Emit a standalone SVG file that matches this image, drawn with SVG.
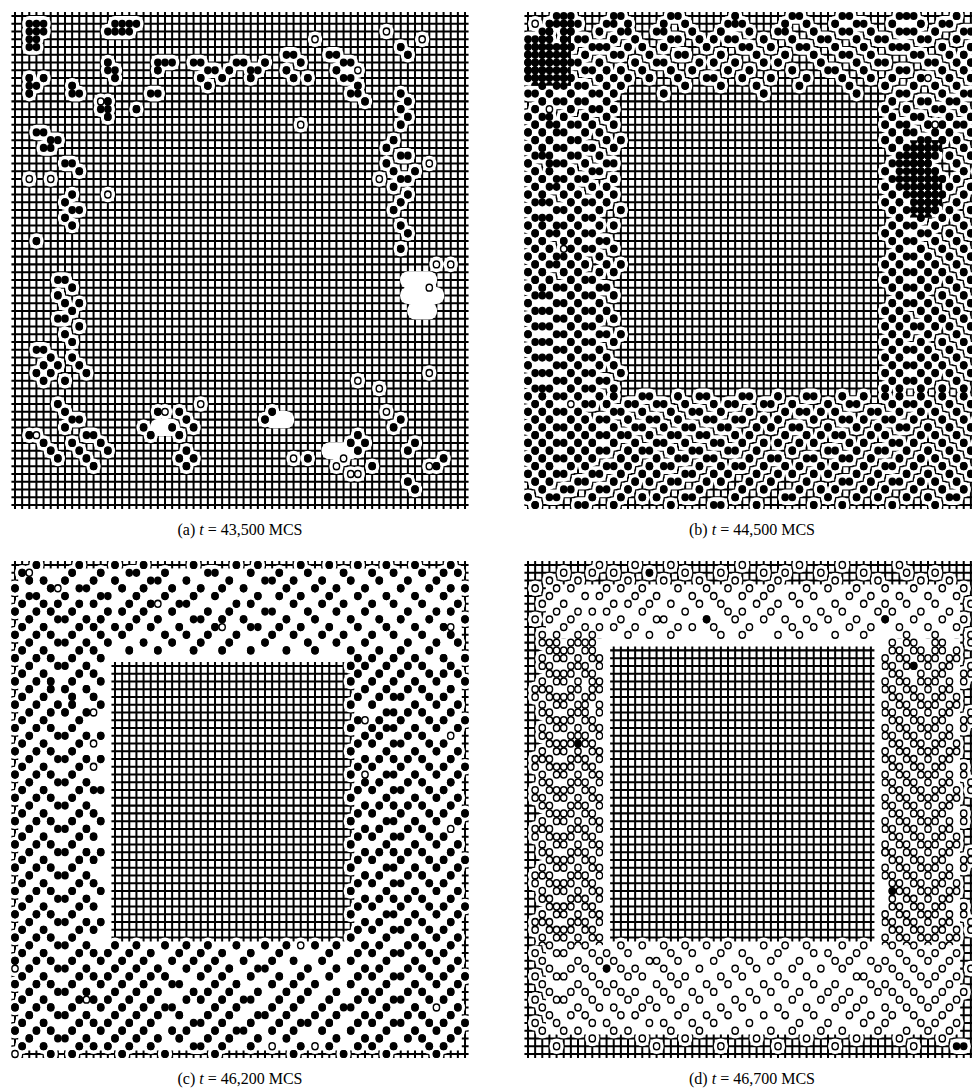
<svg xmlns="http://www.w3.org/2000/svg" width="972" height="1091" viewBox="0 0 972 1091">
<style>
.gh{fill:none;stroke:#000;stroke-width:64;stroke-dasharray:0.26 0.74}
.gv{fill:none;stroke:#000;stroke-width:64;stroke-dasharray:0.28 0.72}
.halo{fill:none;stroke:#fff;stroke-width:2;stroke-linecap:round}
.mk{fill:none;stroke:none;marker-start:url(#dot);marker-mid:url(#dot);marker-end:url(#dot)}
.ring{fill:none;stroke:#000;stroke-width:1.08;stroke-linecap:round}
.hole{fill:none;stroke:#fff;stroke-width:0.68;stroke-linecap:round}
.wb{fill:#fff;fill-rule:evenodd}
text{font-family:"Liberation Serif","Times New Roman",serif;font-size:16px;fill:#000}
</style>
<defs>
<marker id="dot" markerUnits="userSpaceOnUse" viewBox="-1 -1 2 2" markerWidth="2" markerHeight="2" refX="0" refY="0" overflow="visible"><circle r="0.53" fill="#000"/></marker>
<clipPath id="clipB"><path d="M-0.6 -0.6H6V9H-0.6ZM53.5 16H58V26H53.5Z"/></clipPath>
<clipPath id="clipD"><path d="M-0.6 9.5H10.5V49H-0.6ZM49.5 9.5H63.6V49H49.5Z"/></clipPath>
<path id="ab" d="M2 1h1 1M2 2h1 1M2 3h1M2 4h1M14 1h1 1 1M13 2h1 1 1M2 8h0M4 8h0M2 9h1M2 10h0M8 9h0M8 10h1M13 11h0M12 12h1M13 13h0M13 6h0M13 7h1M14 8h0M17 12h0M20 6h1 1M20 7h0M19 10h1M25 6h1M27 7h1M26 8h0M29 8h0M30 7h0M27 9h0M31 6h1M33 7h1M35 6h0M33 8h0M38 5h1M40 6h0M38 7h0M39 8h0M41 8h0M44 5h1M46 6h1M45 7h0M46 8h1M48 9h0M47 10h1M49 11h0M54 4h0M55 5h0M54 10h0M55 11h0M54 12h0M55 13h0M54 14h0M53 16h0M52 17h0M54 18h1M52 19h0M53 20h0M56 20h0M54 21h1M53 22h0M55 23h0M54 24h0M53 25h0M54 27h0M55 28h0M54 30h0M3 15h1M5 16h1M4 17h1M7 19h1M9 20h0M8 23h0M7 24h0M8 25h1M7 26h0M8 27h0M3 29h0M6 34h1M8 35h0M6 36h0M7 37h0M9 37h0M8 38h0M6 39h1M9 40h0M7 41h0M8 42h0M3 43h1M5 44h0M4 45h0M6 45h0M3 46h0M5 46h0M8 44h0M9 45h0M10 46h0M7 47h0M4 47h0M6 50h0M7 51h0M8 52h1M7 53h0M10 54h1M8 55h0M12 55h0M9 56h0M13 56h0M10 57h0M11 58h0M2 54h0M4 55h0M5 56h0M6 57h0M20 51h0M23 51h0M24 52h0M22 53h0M23 54h0M25 53h0M24 56h0M23 57h0M25 57h0M24 58h0M19 54h0M18 53h0M36 51h0M35 52h0M41 57h0M47 55h0M48 54h0M49 55h0M48 56h0M50 58h0M55 60h0M56 61h0M59 58h0M60 57h0M55 56h0M56 55h0M53 53h0M54 52h0"/>
<path id="ao" d="M12 11h0M40 14h0M42 3h0M48 7h0M52 2h0M57 3h0M51 21h0M58 19h0M59 32h0M61 32h0M58 35h0M2 21h0M5 21h0M13 23h0M3 54h0M21 51h0M26 50h0M39 57h0M46 57h0M48 47h0M51 48h0M58 46h0M52 51h0M45 58h0M47 59h0M48 59h0M58 58h0"/>
<path id="bb" d="M4 0h1 1M12 0h1M20 0h1M29 0h0M37 0h1M44 0h1M52 0h1 1M60 0h0M3 1h0M5 1h1 1M11 1h1M14 1h0M19 1h0M22 1h0M28 1h1 1M36 1h0M39 1h0M43 1h0M46 1h1M51 1h0M55 1h0M58 1h1M2 2h1M6 2h0M10 2h0M13 2h1M18 2h1M23 2h0M27 2h0M31 2h0M35 2h1M40 2h0M44 2h1M48 2h0M52 2h1 1M57 2h0M61 2h1M0 3h1 1M5 3h0M7 3h1M12 3h0M15 3h0M20 3h1M24 3h0M26 3h0M28 3h1M33 3h0M37 3h0M41 3h1M46 3h0M49 3h1M55 3h1M60 3h0M1 4h1 1 1M6 4h0M9 4h1 1M14 4h0M16 4h0M19 4h0M25 4h0M30 4h1M34 4h0M38 4h1M43 4h0M47 4h0M51 4h1 1M58 4h0M62 4h0M0 5h0M2 5h1M5 5h0M8 5h0M12 5h1M17 5h0M21 5h1M27 5h0M32 5h0M36 5h0M40 5h0M44 5h1M48 5h0M54 5h1M59 5h0M61 5h0M1 6h0M3 6h1M6 6h1M10 6h0M15 6h0M18 6h1M24 6h0M26 6h0M29 6h0M33 6h0M35 6h0M41 6h0M46 6h0M49 6h1M56 6h1M60 6h0M62 6h0M0 7h0M2 7h0M5 7h0M8 7h1M11 7h0M13 7h0M16 7h0M20 7h0M23 7h0M28 7h0M31 7h0M37 7h0M42 7h1M47 7h0M52 7h1M58 7h0M61 7h0M1 8h0M3 8h1M6 8h0M10 8h0M12 8h0M14 8h0M17 8h0M21 8h0M25 8h1M30 8h0M34 8h0M39 8h0M44 8h0M48 8h0M51 8h0M55 8h0M59 8h0M62 8h0M2 9h0M4 9h1M7 9h1M11 9h0M13 9h0M22 9h0M27 9h0M32 9h0M38 9h0M45 9h0M50 9h0M54 9h0M57 9h0M60 9h0M0 10h1M3 10h0M6 10h0M9 10h1M12 10h0M19 10h0M33 10h0M46 10h0M52 10h1M58 10h0M61 10h1M2 11h0M4 11h1M7 11h1M11 11h0M51 11h0M55 11h1M59 11h1M1 12h0M6 12h0M9 12h1M12 12h0M50 12h0M53 12h0M57 12h1M61 12h0M0 13h0M2 13h1M5 13h0M8 13h0M11 13h0M51 13h0M54 13h1M59 13h0M62 13h0M1 14h0M3 14h1M6 14h1M9 14h0M12 14h0M50 14h0M52 14h1M56 14h0M58 14h0M60 14h1M0 15h0M2 15h0M4 15h1M8 15h0M10 15h0M51 15h0M53 15h1M57 15h0M59 15h0M62 15h0M1 16h0M3 16h0M6 16h1M11 16h0M13 16h0M50 16h0M52 16h0M55 16h1M58 16h0M60 16h0M0 17h0M2 17h0M4 17h1M8 17h1M12 17h0M51 17h0M53 17h1 1 1 1M61 17h0M1 18h1 1M6 18h1M10 18h0M52 18h1 1 1 1M59 18h0M62 18h0M0 19h0M3 19h1 1M8 19h0M11 19h1M51 19h1 1 1 1 1M60 19h0M1 20h0M3 20h0M6 20h0M9 20h1M50 20h0M52 20h1 1 1M57 20h0M61 20h0M63 20h0M0 21h0M2 21h0M4 21h1M7 21h1M12 21h0M51 21h1 1 1M56 21h0M58 21h0M60 21h0M1 22h0M3 22h1M6 22h0M9 22h0M11 22h0M50 22h0M52 22h1M55 22h0M57 22h0M59 22h0M62 22h0M0 23h0M2 23h0M5 23h0M7 23h0M10 23h0M12 23h0M51 23h0M53 23h1M56 23h0M58 23h0M61 23h0M1 24h1 1M6 24h0M8 24h1M11 24h0M50 24h0M52 24h0M55 24h0M57 24h0M60 24h0M0 25h0M4 25h1M7 25h0M10 25h0M13 25h0M51 25h0M53 25h1M56 25h0M59 25h0M62 25h0M1 26h1 1M6 26h0M8 26h1M52 26h0M55 26h0M58 26h0M60 26h0M0 27h0M2 27h0M4 27h1M7 27h0M10 27h0M12 27h0M51 27h0M53 27h1M57 27h0M61 27h0M1 28h0M3 28h1M6 28h0M8 28h1M50 28h0M52 28h0M55 28h1M59 28h0M62 28h0M0 29h0M2 29h0M5 29h0M7 29h0M10 29h1M51 29h0M53 29h1M57 29h0M60 29h0M1 30h0M3 30h0M6 30h0M8 30h1M12 30h0M52 30h0M55 30h0M58 30h0M61 30h0M0 31h0M2 31h0M4 31h1M7 31h0M10 31h0M51 31h0M53 31h1M56 31h0M59 31h0M62 31h0M1 32h0M3 32h1M6 32h0M8 32h0M11 32h0M13 32h0M50 32h0M52 32h0M55 32h0M57 32h0M60 32h0M0 33h0M2 33h0M5 33h0M7 33h0M10 33h0M12 33h0M51 33h0M53 33h1M56 33h0M58 33h0M61 33h0M1 34h0M3 34h0M6 34h0M8 34h1M50 34h0M52 34h0M55 34h0M57 34h0M59 34h0M62 34h0M0 35h0M2 35h0M4 35h1M7 35h0M10 35h1M51 35h0M53 35h1M56 35h0M60 35h0M1 36h1 1M6 36h0M8 36h1M12 36h0M52 36h0M55 36h0M58 36h0M61 36h0M0 37h0M4 37h1M7 37h0M10 37h0M51 37h0M53 37h1M56 37h0M59 37h0M62 37h0M1 38h1 1M6 38h0M8 38h1M11 38h0M50 38h0M52 38h0M55 38h0M57 38h0M60 38h0M0 39h0M4 39h1M7 39h0M10 39h0M12 39h0M51 39h0M53 39h0M56 39h0M58 39h0M61 39h0M1 40h1 1M6 40h0M8 40h1M50 40h0M52 40h0M54 40h1M57 40h0M59 40h0M62 40h0M0 41h0M4 41h1M7 41h0M10 41h1M13 41h0M51 41h0M53 41h0M56 41h0M60 41h0M1 42h1 1M6 42h0M8 42h1M12 42h0M50 42h0M52 42h0M55 42h0M58 42h0M61 42h0M0 43h0M4 43h1M7 43h0M10 43h0M51 43h0M53 43h1M56 43h0M59 43h0M62 43h0M1 44h1 1M6 44h0M8 44h1M11 44h0M50 44h0M52 44h0M55 44h0M57 44h0M60 44h0M0 45h0M4 45h1M7 45h0M10 45h0M12 45h0M51 45h0M53 45h1M56 45h0M58 45h0M61 45h0M1 46h1 1M6 46h0M8 46h1M13 46h0M50 46h0M52 46h0M55 46h0M57 46h0M59 46h0M62 46h0M0 47h0M4 47h1M7 47h0M10 47h1M51 47h0M53 47h1M56 47h0M60 47h0M1 48h1 1M6 48h0M8 48h1M12 48h0M50 48h0M52 48h0M55 48h0M58 48h0M61 48h0M0 49h0M2 49h0M4 49h1M7 49h0M10 49h0M12 49h0M16 49h1M21 49h0M24 49h1M30 49h1M35 49h0M39 49h1M44 49h0M47 49h0M50 49h0M52 49h0M55 49h0M58 49h0M61 49h0M1 50h0M3 50h0M8 50h1M11 50h0M14 50h1M18 50h1M22 50h0M26 50h0M28 50h1M33 50h1M37 50h0M42 50h0M45 50h1M51 50h0M53 50h1M56 50h0M59 50h0M62 50h0M0 51h0M2 51h0M4 51h1M7 51h0M12 51h1M16 51h0M20 51h0M23 51h1M27 51h0M31 51h0M36 51h0M38 51h1M41 51h0M43 51h0M48 51h1M52 51h0M55 51h0M57 51h0M60 51h0M1 52h0M3 52h0M6 52h0M8 52h0M10 52h1M14 52h0M17 52h1M21 52h0M25 52h1M29 52h1M33 52h0M35 52h0M40 52h0M44 52h1M47 52h0M50 52h1M54 52h0M58 52h0M61 52h0M63 52h0M0 53h0M2 53h0M4 53h1M7 53h0M9 53h0M12 53h0M15 53h1M19 53h0M22 53h1M27 53h1M32 53h0M34 53h0M37 53h1M42 53h0M46 53h0M49 53h0M52 53h1M56 53h0M59 53h0M62 53h0M1 54h0M3 54h0M6 54h0M8 54h0M10 54h1M13 54h1M17 54h0M20 54h1M24 54h1M29 54h0M31 54h0M36 54h0M39 54h0M41 54h0M43 54h1M48 54h0M50 54h0M55 54h0M57 54h0M60 54h0M0 55h0M2 55h0M4 55h1M7 55h0M9 55h0M12 55h0M15 55h0M18 55h1M22 55h0M26 55h1M30 55h0M33 55h0M35 55h0M38 55h0M40 55h0M45 55h0M47 55h0M51 55h1M54 55h0M58 55h0M61 55h0M63 55h0M1 56h0M3 56h0M6 56h0M8 56h0M10 56h1M14 56h0M16 56h1M20 56h0M23 56h1M28 56h1M32 56h0M37 56h0M42 56h1M46 56h0M49 56h1M53 56h0M56 56h0M59 56h0M62 56h0M0 57h0M2 57h0M4 57h1M7 57h0M9 57h0M13 57h0M15 57h0M18 57h0M21 57h1M25 57h1M31 57h0M34 57h1M39 57h1M44 57h1M48 57h0M52 57h0M55 57h0M57 57h0M60 57h0M1 58h0M3 58h0M6 58h0M8 58h0M11 58h1M14 58h0M17 58h0M19 58h1M24 58h0M27 58h0M29 58h1M33 58h0M36 58h0M38 58h0M41 58h0M43 58h0M47 58h0M50 58h1M54 58h0M58 58h0M61 58h0M0 59h0M2 59h0M4 59h1M9 59h1M13 59h0M16 59h0M18 59h0M22 59h1M26 59h0M28 59h0M32 59h0M35 59h0M37 59h0M40 59h0M42 59h0M46 59h0M49 59h0M53 59h0M56 59h0M59 59h0M62 59h0M1 60h0M3 60h0M7 60h1M12 60h0M15 60h0M17 60h0M20 60h1M25 60h0M27 60h0M31 60h0M34 60h0M39 60h0M44 60h1M48 60h0M51 60h1M55 60h0M57 60h0M60 60h0M2 61h0M5 61h1M10 61h1M14 61h0M19 61h0M24 61h0M30 61h0M33 61h0M38 61h0M41 61h0M43 61h0M47 61h0M50 61h0M54 61h0M58 61h0M61 61h0M0 62h0M3 62h1M9 62h0M13 62h0M16 62h0M18 62h0M22 62h1M29 62h0M36 62h1M42 62h0M46 62h0M49 62h0M53 62h0M56 62h0M59 62h1M1 63h0M7 63h1M12 63h0M20 63h0M26 63h1M32 63h0M40 63h0M44 63h0M51 63h0M57 63h0"/>
<path id="bo" d="M1 1h0M3 12h0M57 14h0M5 30h0M6 50h0M56 8h0"/>
<path id="cb" d="M3 0h0M9 0h0M14 0h0M18 0h0M25 0h0M31 0h0M34 0h0M40 0h0M44 0h0M48 0h0M52 0h0M56 0h0M61 0h0M1 1h0M8 1h0M12 1h0M16 1h1M21 1h0M27 1h1M33 1h0M37 1h0M41 1h0M46 1h0M50 1h0M53 1h0M57 1h0M60 1h0M62 1h0M2 2h0M4 2h0M7 2h0M11 2h0M14 2h0M19 2h1M24 2h0M30 2h0M35 2h1M39 2h0M43 2h0M47 2h0M51 2h0M55 2h0M59 2h0M0 3h0M5 3h0M9 3h1M15 3h0M18 3h0M22 3h0M26 3h0M29 3h0M32 3h0M38 3h0M42 3h0M45 3h0M49 3h0M54 3h0M58 3h0M61 3h0M63 3h0M2 4h1M7 4h0M12 4h1M17 4h0M21 4h0M25 4h0M28 4h0M34 4h0M37 4h0M40 4h0M44 4h0M48 4h0M52 4h0M56 4h0M60 4h0M1 5h0M4 5h0M6 5h0M9 5h0M11 5h0M16 5h0M19 5h0M23 5h1M31 5h0M33 5h0M39 5h0M43 5h0M46 5h0M50 5h0M53 5h0M57 5h0M62 5h0M0 6h0M3 6h0M5 6h0M8 6h0M13 6h0M15 6h0M18 6h0M22 6h0M27 6h0M30 6h0M35 6h1M41 6h0M45 6h0M49 6h0M55 6h0M59 6h0M61 6h0M2 7h0M6 7h1M10 7h0M12 7h0M17 7h0M20 7h0M25 7h1M29 7h0M32 7h0M38 7h0M42 7h0M47 7h0M51 7h0M54 7h0M58 7h0M63 7h0M1 8h0M4 8h0M9 8h0M11 8h0M14 8h0M16 8h0M19 8h0M23 8h0M28 8h0M33 8h1M37 8h0M40 8h0M44 8h0M48 8h0M52 8h0M56 8h0M60 8h0M0 9h0M3 9h0M5 9h0M8 9h0M12 9h0M15 9h0M21 9h0M24 9h0M27 9h0M31 9h0M36 9h0M39 9h0M43 9h0M46 9h0M50 9h0M53 9h0M57 9h0M61 9h0M2 10h0M6 10h1M10 10h0M13 10h0M18 10h0M22 10h0M26 10h0M30 10h0M35 10h0M41 10h0M45 10h0M49 10h0M55 10h0M59 10h0M62 10h0M1 11h0M4 11h0M9 11h0M11 11h0M16 11h0M20 11h0M25 11h0M29 11h0M33 11h0M38 11h0M42 11h0M47 11h0M51 11h0M54 11h0M58 11h0M0 12h0M3 12h0M5 12h0M8 12h0M12 12h0M48 12h0M50 12h0M53 12h0M56 12h0M60 12h0M63 12h0M2 13h0M6 13h1M10 13h0M47 13h0M49 13h0M52 13h0M55 13h0M57 13h0M61 13h0M1 14h0M4 14h0M9 14h0M11 14h0M48 14h0M51 14h0M54 14h0M58 14h0M60 14h0M62 14h0M0 15h0M3 15h0M5 15h0M8 15h0M12 15h0M47 15h0M50 15h0M53 15h0M56 15h0M59 15h0M63 15h0M2 16h0M5 16h0M7 16h0M10 16h0M49 16h0M52 16h0M55 16h0M57 16h0M61 16h0M1 17h0M4 17h0M8 17h0M11 17h0M48 17h0M51 17h0M53 17h1M58 17h0M60 17h0M0 18h0M3 18h0M6 18h0M8 18h0M12 18h0M47 18h0M50 18h0M56 18h0M59 18h0M62 18h0M2 19h0M5 19h0M7 19h0M10 19h0M52 19h1M55 19h0M57 19h0M61 19h0M1 20h0M4 20h0M9 20h0M48 20h0M51 20h0M54 20h0M58 20h0M60 20h0M63 20h0M0 21h0M3 21h0M5 21h0M8 21h0M47 21h0M50 21h0M52 21h1M56 21h0M59 21h0M62 21h0M2 22h0M6 22h1M10 22h0M12 22h0M49 22h0M51 22h0M55 22h0M57 22h0M1 23h0M4 23h0M9 23h0M48 23h0M50 23h0M53 23h1M58 23h0M60 23h0M0 24h0M3 24h0M5 24h0M8 24h0M47 24h0M52 24h0M56 24h0M59 24h0M62 24h0M2 25h0M6 25h1M10 25h0M12 25h0M49 25h0M51 25h0M53 25h0M55 25h0M57 25h0M61 25h0M1 26h0M4 26h0M9 26h0M48 26h0M50 26h0M54 26h0M58 26h0M60 26h0M63 26h0M0 27h0M3 27h0M5 27h0M8 27h0M47 27h0M52 27h1M56 27h0M59 27h0M62 27h0M2 28h0M6 28h1M10 28h0M49 28h0M51 28h0M55 28h0M57 28h0M61 28h0M1 29h0M4 29h0M9 29h0M11 29h1M48 29h0M50 29h0M53 29h1M58 29h0M60 29h0M0 30h0M3 30h0M5 30h0M8 30h0M47 30h0M52 30h0M56 30h0M59 30h0M62 30h0M2 31h0M6 31h1M10 31h0M49 31h0M51 31h0M53 31h0M55 31h0M57 31h0M61 31h0M1 32h0M4 32h0M9 32h0M11 32h0M48 32h0M50 32h0M54 32h0M58 32h0M60 32h0M63 32h0M0 33h0M3 33h0M5 33h0M8 33h0M12 33h0M47 33h0M52 33h1M56 33h0M59 33h0M62 33h0M2 34h0M6 34h1M10 34h0M49 34h0M51 34h0M55 34h0M57 34h0M1 35h0M4 35h0M9 35h0M11 35h0M48 35h0M50 35h0M53 35h1M58 35h0M60 35h0M0 36h0M3 36h0M5 36h0M8 36h0M47 36h0M52 36h0M56 36h0M59 36h0M62 36h0M2 37h0M6 37h1M10 37h0M12 37h0M49 37h0M51 37h0M53 37h0M55 37h0M57 37h0M61 37h0M1 38h0M4 38h0M9 38h0M11 38h0M48 38h0M50 38h0M54 38h0M58 38h0M60 38h0M63 38h0M0 39h0M3 39h0M5 39h0M8 39h0M47 39h0M52 39h1M56 39h0M59 39h0M62 39h0M2 40h0M6 40h1M10 40h0M49 40h0M51 40h0M55 40h0M57 40h0M61 40h0M1 41h0M4 41h0M9 41h0M11 41h0M48 41h0M50 41h0M53 41h1M58 41h0M60 41h0M0 42h0M3 42h0M5 42h0M8 42h0M12 42h0M47 42h0M52 42h0M56 42h0M59 42h0M62 42h0M2 43h0M6 43h1M10 43h0M49 43h0M51 43h0M53 43h0M55 43h0M57 43h0M61 43h0M1 44h0M4 44h0M9 44h0M11 44h0M48 44h0M50 44h0M54 44h0M58 44h0M60 44h0M63 44h0M0 45h0M3 45h0M5 45h0M8 45h0M47 45h0M52 45h1M56 45h0M59 45h0M62 45h0M2 46h0M6 46h1M10 46h0M12 46h0M49 46h0M51 46h0M55 46h0M57 46h0M61 46h0M1 47h0M4 47h0M9 47h0M11 47h0M48 47h0M50 47h0M53 47h1M58 47h0M60 47h0M0 48h0M3 48h0M5 48h0M8 48h0M47 48h0M52 48h0M56 48h0M59 48h0M62 48h0M2 49h0M6 49h1M10 49h0M14 49h0M17 49h0M21 49h0M24 49h0M27 49h0M31 49h0M35 49h0M38 49h0M42 49h0M45 49h0M49 49h0M51 49h0M55 49h0M57 49h0M61 49h0M1 50h0M4 50h0M9 50h0M11 50h0M13 50h0M16 50h0M19 50h0M23 50h0M26 50h0M29 50h0M33 50h0M37 50h0M44 50h0M48 50h0M50 50h0M53 50h1M58 50h0M60 50h0M0 51h0M3 51h0M5 51h0M8 51h0M12 51h0M15 51h0M18 51h0M22 51h0M25 51h0M28 51h0M32 51h0M36 51h0M39 51h0M43 51h0M47 51h0M52 51h0M56 51h0M59 51h0M62 51h0M2 52h0M6 52h1M10 52h0M14 52h0M17 52h0M20 52h0M24 52h0M27 52h0M30 52h0M34 52h1M41 52h0M45 52h0M49 52h0M51 52h0M55 52h0M57 52h0M61 52h0M1 53h0M4 53h0M9 53h0M11 53h0M13 53h0M16 53h0M19 53h0M21 53h0M26 53h0M29 53h0M33 53h0M37 53h0M40 53h0M44 53h0M48 53h0M50 53h0M53 53h1M58 53h0M60 53h0M63 53h0M0 54h0M3 54h0M5 54h0M8 54h0M12 54h0M15 54h0M18 54h0M22 54h1M28 54h0M31 54h0M36 54h0M39 54h0M42 54h0M47 54h0M52 54h0M56 54h0M59 54h0M62 54h0M2 55h0M6 55h1M10 55h0M14 55h0M17 55h0M20 55h0M25 55h0M27 55h0M30 55h0M34 55h0M38 55h0M41 55h0M45 55h0M49 55h0M51 55h0M55 55h0M57 55h0M61 55h0M1 56h0M4 56h0M9 56h0M11 56h0M13 56h0M16 56h0M19 56h0M24 56h0M26 56h0M29 56h0M32 56h1M37 56h0M40 56h0M44 56h0M48 56h0M50 56h0M53 56h1M58 56h0M60 56h0M0 57h0M3 57h0M5 57h0M8 57h0M12 57h0M15 57h0M18 57h0M21 57h1M28 57h0M31 57h0M36 57h0M39 57h0M43 57h0M46 57h1M52 57h0M56 57h0M62 57h0M2 58h0M6 58h1M10 58h0M14 58h0M17 58h0M20 58h0M23 58h0M27 58h0M30 58h0M34 58h1M38 58h0M42 58h0M45 58h0M49 58h0M51 58h0M55 58h0M57 58h0M61 58h0M1 59h0M4 59h0M9 59h0M11 59h0M13 59h0M16 59h0M19 59h0M25 59h1M29 59h0M33 59h0M37 59h0M40 59h1M44 59h0M48 59h0M50 59h0M53 59h1M58 59h0M60 59h0M63 59h0M0 60h0M3 60h0M5 60h0M8 60h0M12 60h0M15 60h0M18 60h0M22 60h0M24 60h0M28 60h0M31 60h1M36 60h0M39 60h0M43 60h0M47 60h0M52 60h0M56 60h0M59 60h0M62 60h0M2 61h0M6 61h1M10 61h0M14 61h0M17 61h0M20 61h0M23 61h0M27 61h0M30 61h0M34 61h0M38 61h0M45 61h0M49 61h0M51 61h0M55 61h0M57 61h0M61 61h0M1 62h0M4 62h0M9 62h0M11 62h0M13 62h0M16 62h0M19 62h0M25 62h1M29 62h0M33 62h0M40 62h0M44 62h0M48 62h0M50 62h0M53 62h0M58 62h0M60 62h0M5 63h0M8 63h0M15 63h0M21 63h0M28 63h0M39 63h0M46 63h0M52 63h0M59 63h0"/>
<path id="co" d="M2 1h0M6 3h0M20 5h0M29 8h0M11 19h0M11 23h0M11 26h0M49 20h0M49 27h0M61 8h0M61 22h0M61 34h0M0 52h0M10 56h0M40 49h0M36 62h0M0 63h0M42 62h0M59 57h0"/>
<path id="do" d="M10 0h0M15 0h0M20 0h0M30 0h0M38 0h0M44 0h0M52 0h0M5 1h0M9 1h0M12 1h0M22 1h0M27 1h0M33 1h0M36 1h0M41 1h0M47 1h0M53 1h0M57 1h0M3 2h0M7 2h0M14 2h0M19 2h0M24 2h0M29 2h0M35 2h0M43 2h0M49 2h0M55 2h0M59 2h0M1 3h0M4 3h0M6 3h0M11 3h0M13 3h0M16 3h0M21 3h0M25 3h0M28 3h0M31 3h0M34 3h0M39 3h0M42 3h0M46 3h0M50 3h0M54 3h0M58 3h0M61 3h0M3 4h0M8 4h0M10 4h0M15 4h0M18 4h0M23 4h0M26 4h0M30 4h0M33 4h0M37 4h0M40 4h0M45 4h0M48 4h0M52 4h0M56 4h0M60 4h0M2 5h0M5 5h0M12 5h0M14 5h0M17 5h0M20 5h0M24 5h0M27 5h0M32 5h0M35 5h0M38 5h0M43 5h0M47 5h0M50 5h0M53 5h0M57 5h0M62 5h0M4 6h0M7 6h0M9 6h0M11 6h0M16 6h0M22 6h0M28 6h0M30 6h0M34 6h0M41 6h0M44 6h0M49 6h0M51 6h0M55 6h0M59 6h0M1 7h0M3 7h0M6 7h0M13 7h0M18 7h0M19 7h0M29 7h0M33 7h0M36 7h0M39 7h0M42 7h0M46 7h0M54 7h0M58 7h0M61 7h0M5 8h0M8 8h0M10 8h0M12 8h0M15 8h0M21 8h0M23 8h0M26 8h0M31 8h0M37 8h0M40 8h0M45 8h0M48 8h0M52 8h0M56 8h0M60 8h0M2 9h0M4 9h0M7 9h0M9 9h0M14 9h0M17 9h0M20 9h0M27 9h0M30 9h0M35 9h0M38 9h0M43 9h0M47 9h0M53 9h0M57 9h0M62 9h0M3 10h0M6 10h0M8 10h0M51 10h0M54 10h0M58 10h0M4 11h0M5 11h0M9 11h0M52 11h0M55 11h0M57 11h0M60 11h0M2 12h0M7 12h0M10 12h0M50 12h0M53 12h0M56 12h0M59 12h0M3 13h0M6 13h0M8 13h0M51 13h0M58 13h0M62 13h0M4 14h0M5 14h0M9 14h0M52 14h0M55 14h0M57 14h0M61 14h0M2 15h0M7 15h0M10 15h0M50 15h0M53 15h0M56 15h0M59 15h0M1 16h0M3 16h0M6 16h0M9 16h0M51 16h0M54 16h0M58 16h0M4 17h0M5 17h0M8 17h0M52 17h0M55 17h0M57 17h0M60 17h0M2 18h0M7 18h0M10 18h0M50 18h0M53 18h0M56 18h0M59 18h0M3 19h0M6 19h0M8 19h0M51 19h0M54 19h0M58 19h0M62 19h0M4 20h0M5 20h0M9 20h0M52 20h0M55 20h0M57 20h0M61 20h0M2 21h0M7 21h0M10 21h0M50 21h0M53 21h0M56 21h0M59 21h0M3 22h0M6 22h0M8 22h0M51 22h0M54 22h0M58 22h0M4 23h0M5 23h0M9 23h0M52 23h0M55 23h0M57 23h0M60 23h0M2 24h0M7 24h0M10 24h0M50 24h0M53 24h0M56 24h0M59 24h0M1 25h0M3 25h0M6 25h0M8 25h0M51 25h0M54 25h0M58 25h0M4 26h0M5 26h0M9 26h0M52 26h0M55 26h0M57 26h0M61 26h0M2 27h0M7 27h0M10 27h0M50 27h0M53 27h0M56 27h0M59 27h0M3 28h0M6 28h0M8 28h0M51 28h0M54 28h0M58 28h0M62 28h0M1 29h0M4 29h0M5 29h0M9 29h0M52 29h0M55 29h0M57 29h0M60 29h0M2 30h0M7 30h0M10 30h0M50 30h0M53 30h0M56 30h0M59 30h0M3 31h0M6 31h0M8 31h0M51 31h0M54 31h0M58 31h0M4 32h0M5 32h0M9 32h0M52 32h0M55 32h0M57 32h0M61 32h0M2 33h0M7 33h0M10 33h0M50 33h0M53 33h0M56 33h0M59 33h0M1 34h0M3 34h0M6 34h0M8 34h0M51 34h0M54 34h0M58 34h0M4 35h0M5 35h0M9 35h0M52 35h0M55 35h0M57 35h0M60 35h0M2 36h0M7 36h0M10 36h0M50 36h0M53 36h0M56 36h0M59 36h0M3 37h0M6 37h0M8 37h0M51 37h0M54 37h0M58 37h0M62 37h0M4 38h0M5 38h0M9 38h0M52 38h0M55 38h0M57 38h0M61 38h0M2 39h0M7 39h0M10 39h0M50 39h0M53 39h0M56 39h0M59 39h0M1 40h0M3 40h0M6 40h0M8 40h0M51 40h0M54 40h0M58 40h0M4 41h0M5 41h0M9 41h0M52 41h0M55 41h0M57 41h0M60 41h0M2 42h0M7 42h0M10 42h0M53 42h0M56 42h0M59 42h0M3 43h0M6 43h0M8 43h0M51 43h0M54 43h0M58 43h0M4 44h0M5 44h0M9 44h0M52 44h0M55 44h0M57 44h0M61 44h0M2 45h0M7 45h0M10 45h0M50 45h0M53 45h0M56 45h0M59 45h0M1 46h0M3 46h0M6 46h0M8 46h0M51 46h0M54 46h0M58 46h0M62 46h0M4 47h0M5 47h0M9 47h0M52 47h0M55 47h0M57 47h0M60 47h0M2 48h0M7 48h0M10 48h0M50 48h0M53 48h0M56 48h0M59 48h0M3 49h0M6 49h0M8 49h0M13 49h0M16 49h0M19 49h0M22 49h0M25 49h0M28 49h0M33 49h0M36 49h0M39 49h0M44 49h0M47 49h0M51 49h0M54 49h0M58 49h0M1 50h0M4 50h0M5 50h0M9 50h0M11 50h0M14 50h0M20 50h0M23 50h0M27 50h0M30 50h0M35 50h0M40 50h0M42 50h0M46 50h0M52 50h0M55 50h0M57 50h0M60 50h0M2 51h0M7 51h0M10 51h0M12 51h0M17 51h0M18 51h0M21 51h0M26 51h0M31 51h0M34 51h0M38 51h0M43 51h0M45 51h0M48 51h0M50 51h0M53 51h0M56 51h0M59 51h0M3 52h0M6 52h0M8 52h0M13 52h0M15 52h0M19 52h0M24 52h0M29 52h0M32 52h0M37 52h0M41 52h0M44 52h0M49 52h0M51 52h0M54 52h0M58 52h0M62 52h0M1 53h0M4 53h0M5 53h0M9 53h0M14 53h0M16 53h0M20 53h0M22 53h0M27 53h0M30 53h0M35 53h0M39 53h0M46 53h0M47 53h0M52 53h0M55 53h0M57 53h0M60 53h0M2 54h0M7 54h0M10 54h0M12 54h0M18 54h0M21 54h0M25 54h0M28 54h0M33 54h0M36 54h0M40 54h0M43 54h0M48 54h0M50 54h0M53 54h0M56 54h0M59 54h0M3 55h0M6 55h0M8 55h0M11 55h0M13 55h0M15 55h0M19 55h0M23 55h0M26 55h0M31 55h0M34 55h0M38 55h0M42 55h0M45 55h0M49 55h0M51 55h0M54 55h0M58 55h0M61 55h0M1 56h0M4 56h0M5 56h0M9 56h0M14 56h0M17 56h0M20 56h0M24 56h0M29 56h0M32 56h0M37 56h0M41 56h0M44 56h0M47 56h0M52 56h0M55 56h0M57 56h0M60 56h0M2 57h0M7 57h0M10 57h0M12 57h0M16 57h0M18 57h0M22 57h0M27 57h0M30 57h0M35 57h0M39 57h0M43 57h0M46 57h0M50 57h0M53 57h0M56 57h0M59 57h0M3 58h0M6 58h0M8 58h0M13 58h0M15 58h0M21 58h0M25 58h0M28 58h0M33 58h0M36 58h0M40 58h0M45 58h0M48 58h0M51 58h0M54 58h0M58 58h0M1 59h0M4 59h0M9 59h0M11 59h0M17 59h0M19 59h0M23 59h0M26 59h0M31 59h0M38 59h0M42 59h0M47 59h0M50 59h0M55 59h0M57 59h0M60 59h0M2 60h0M5 60h0M7 60h0M12 60h0M14 60h0M20 60h0M24 60h0M29 60h0M34 60h0M37 60h0M41 60h0M44 60h0M49 60h0M53 60h0M56 60h0M59 60h0M9 61h0M16 61h0M22 61h0M32 61h0M39 61h0M46 61h0M52 61h0M58 61h0M4 62h0M18 62h0M27 62h0M35 62h0M43 62h0M54 62h0"/>
<path id="db" d="M17 1h0M25 7h0M50 7h0M54 13h0M7 23h0M50 37h0M51 42h0M11 52h0M60 62h1"/>
</defs>

<g id="panel-a" transform="translate(15 16) scale(7.143 7.762)">
<path class="gh" d="M31.5 -.13V63.2"/>
<path class="gv" d="M-.14 31.5H63.2"/>
<path class="halo" style="stroke-width:2.2" d="M55 34h3M55 36h4M56 38h2M20 53h2M44 56h3M36 52h2"/>
<use href="#ab" class="halo"/><use href="#ao" class="halo"/>
<use href="#ab" class="mk"/>
<use href="#ao" class="ring"/><use href="#ao" class="hole"/>
</g>

<g id="panel-b" transform="translate(528 16) scale(7.143 7.762)">
<path class="gh" d="M31.5 -.13V63.2"/>
<path class="gv" d="M-.14 31.5H63.2"/>
<use href="#bb" class="halo"/><use href="#bo" class="halo"/>
<g clip-path="url(#clipB)"><use href="#bb" class="halo" transform="translate(0 1)"/></g>
<use href="#bb" class="mk"/>
<g clip-path="url(#clipB)"><use href="#bb" class="mk" transform="translate(0 1)"/></g>
<use href="#bo" class="ring"/><use href="#bo" class="hole"/>
</g>

<g id="panel-c" transform="translate(15 565) scale(7.143 7.762)">
<path class="gh" d="M31.5 -.13V63.2"/>
<path class="gv" d="M-.14 31.5H63.2"/>
<path class="wb" d="M0.45 0.45H62.55V62.55H0.45ZM13.5 12.5V48.5H47.5V12.5Z"/>
<use href="#cb" class="halo"/><use href="#co" class="halo"/>
<use href="#cb" class="mk"/>
<use href="#co" class="ring"/><use href="#co" class="hole"/>
</g>

<g id="panel-d" transform="translate(528 565) scale(7.143 7.762)">
<path class="gh" d="M31.5 -.13V63.2"/>
<path class="gv" d="M-.14 31.5H63.2"/>
<path class="wb" d="M2.5 2.5H60.5V60.5H2.5ZM11.5 10.5V48.5H48.5V10.5Z"/>
<use href="#do" class="halo"/><use href="#db" class="halo"/>
<g clip-path="url(#clipD)"><use href="#do" class="halo" transform="translate(0 1)"/></g>
<use href="#db" class="mk"/>
<use href="#do" class="ring"/><use href="#do" class="hole"/>
<g clip-path="url(#clipD)"><use href="#do" class="ring" transform="translate(0 1)"/><use href="#do" class="hole" transform="translate(0 1)"/></g>
</g>

<g id="captions">
<text x="240" y="535" text-anchor="middle">(a) <tspan font-style="italic">t</tspan> = 43,500 MCS</text>
<text x="752" y="535" text-anchor="middle">(b) <tspan font-style="italic">t</tspan> = 44,500 MCS</text>
<text x="240" y="1084" text-anchor="middle">(c) <tspan font-style="italic">t</tspan> = 46,200 MCS</text>
<text x="752" y="1084" text-anchor="middle">(d) <tspan font-style="italic">t</tspan> = 46,700 MCS</text>
</g>
</svg>
